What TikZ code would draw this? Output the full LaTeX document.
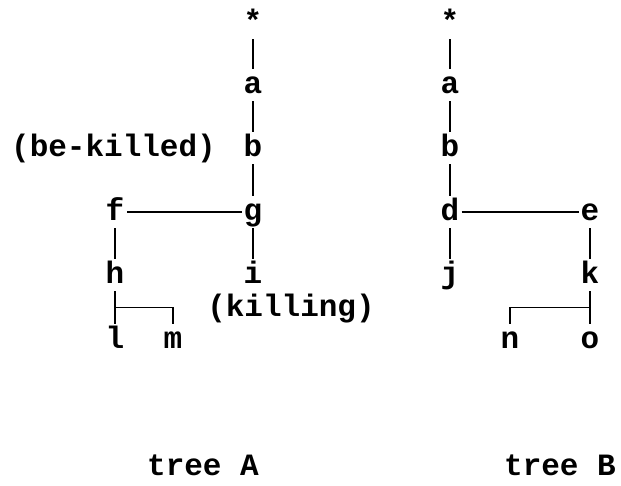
\documentclass[tikz,border=0pt]{standalone}
\usepackage{fontspec}
\setmainfont{Liberation Mono}
\usetikzlibrary{calc}
\begin{document}
\begin{tikzpicture}[x=1pt, y=-1pt,
    lbl/.style={inner xsep=2pt, inner ysep=0pt, text height=24pt, text depth=8pt, font=\bfseries\fontsize{31}{36}\selectfont},
    edge/.style={line width=1.9pt}]
    \useasboundingbox (0,0) rectangle (621,485);
    % tree A
    \begin{scope}[shift={(253,0)}]
        \node[lbl] (Astar) at (0,23) {*};
        \node[lbl] (Aa) at (0,85) {a};
        \node[lbl] (Ab) at (0,148) {b};
        \node[lbl] (Ag) at (0,212) {g};
        \node[lbl] (Ai) at (0,275) {i};
        \node[lbl] (Af) at (-138,212) {f};
        \node[lbl] (Ah) at (-138,275) {h};
        \node[lbl] (Al) at (-138,340) {l};
        \node[lbl] (Am) at (-80,340) {m};
        \node[lbl, anchor=east] (passive) at (-35,148) {(be-killed)};
        \node[lbl] (active) at (38,308) {(killing)};
        \node[lbl] (treeA) at (-50,467) {tree A};
        \draw[edge] (Astar) -- (Aa) -- (Ab) -- (Ag) -- (Ai);
        \draw[edge] (Ag) -- (Af) -- (Ah) -- (Al);
        \coordinate (Ajoin) at ($(Ah)!.5!(Al)$);
        \draw[edge] (Ajoin) -| (Am);
    \end{scope}
    % tree B
    \begin{scope}[shift={(450,0)}]
        \node[lbl] (Bstar) at (0,23) {*};
        \node[lbl] (Ba) at (0,85) {a};
        \node[lbl] (Bb) at (0,148) {b};
        \node[lbl] (Bd) at (0,212) {d};
        \node[lbl] (Bj) at (0,275) {j};
        \node[lbl] (Be) at (140,212) {e};
        \node[lbl] (Bk) at (140,275) {k};
        \node[lbl] (Bo) at (140,340) {o};
        \node[lbl] (Bn) at (60,340) {n};
        \node[lbl] (treeB) at (110,467) {tree B};
        \draw[edge] (Bstar) -- (Ba) -- (Bb) -- (Bd) -- (Bj);
        \draw[edge] (Bd) -- (Be) -- (Bk) -- (Bo);
        \coordinate (Bjoin) at ($(Bk)!.5!(Bo)$);
        \draw[edge] (Bjoin) -| (Bn);
    \end{scope}
\end{tikzpicture}
\end{document}
